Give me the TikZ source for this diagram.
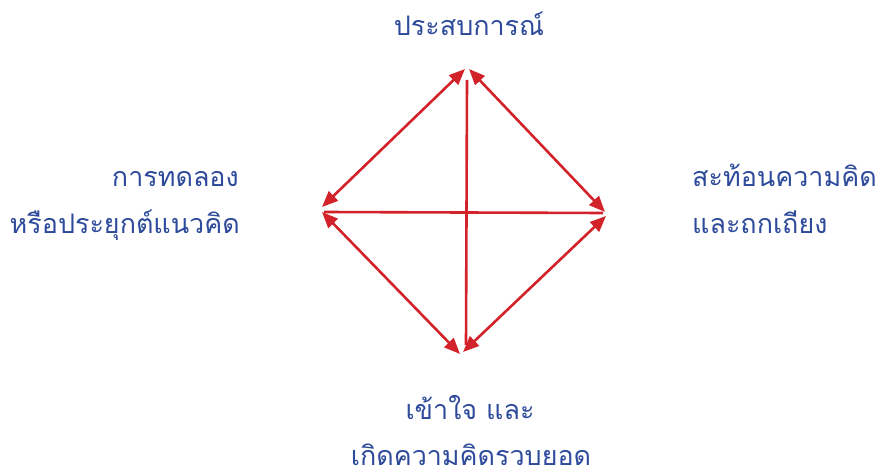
\documentclass[tikz,border=0pt]{standalone}
\usepackage{fontspec}
\newfontfamily\thaifont[Script=Thai]{Loma}
\usetikzlibrary{arrows.meta}
\definecolor{lblblue}{HTML}{2D4A9B}
\definecolor{arrred}{HTML}{D2232A}
\begin{document}
\begin{tikzpicture}[x=1bp,y=-1bp,
  lbl/.style={inner sep=0pt,text=lblblue,font=\thaifont\fontsize{27}{32}\selectfont},
  dbl/.style={draw=arrred,line width=2.6bp,{Triangle[length=16bp,width=13bp]}-{Triangle[length=16bp,width=13bp]}},
  plain/.style={draw=arrred,line width=2.6bp}]
\useasboundingbox (0,0) rectangle (878,473);
% label nodes
\node[lbl,anchor=base] (top) at (469,36) {ประสบการณ์};
\node[lbl,anchor=base east] (left1) at (239,187) {การทดลอง};
\node[lbl,anchor=base east] (left2) at (240,234) {หรือประยุกต์แนวคิด};
\node[lbl,anchor=base west] (right1) at (692,187) {สะท้อนความคิด};
\node[lbl,anchor=base west] (right2) at (692,234) {และถกเถียง};
\node[lbl,anchor=base] (bot1) at (470,419) {เข้าใจ และ};
\node[lbl,anchor=base] (bot2) at (471,465) {เกิดความคิดรวบยอด};
% diamond end points
\coordinate (TL) at (465,69);
\coordinate (TR) at (469,69);
\coordinate (RT) at (605,212);
\coordinate (RB) at (606,216);
\coordinate (BR) at (463,352);
\coordinate (BL) at (460,354);
\coordinate (LB) at (322,212);
\coordinate (LT) at (322,207);
\coordinate (vT) at (467,80);
\coordinate (vB) at (466,345);
\coordinate (hL) at (324,212);
\coordinate (hR) at (603,213);
\draw[dbl] (TR) -- (RT);
\draw[dbl] (RB) -- (BR);
\draw[dbl] (BL) -- (LB);
\draw[dbl] (LT) -- (TL);
\draw[plain] (vT) -- (vB);
\draw[plain] (hL) -- (hR);
\end{tikzpicture}
\end{document}
